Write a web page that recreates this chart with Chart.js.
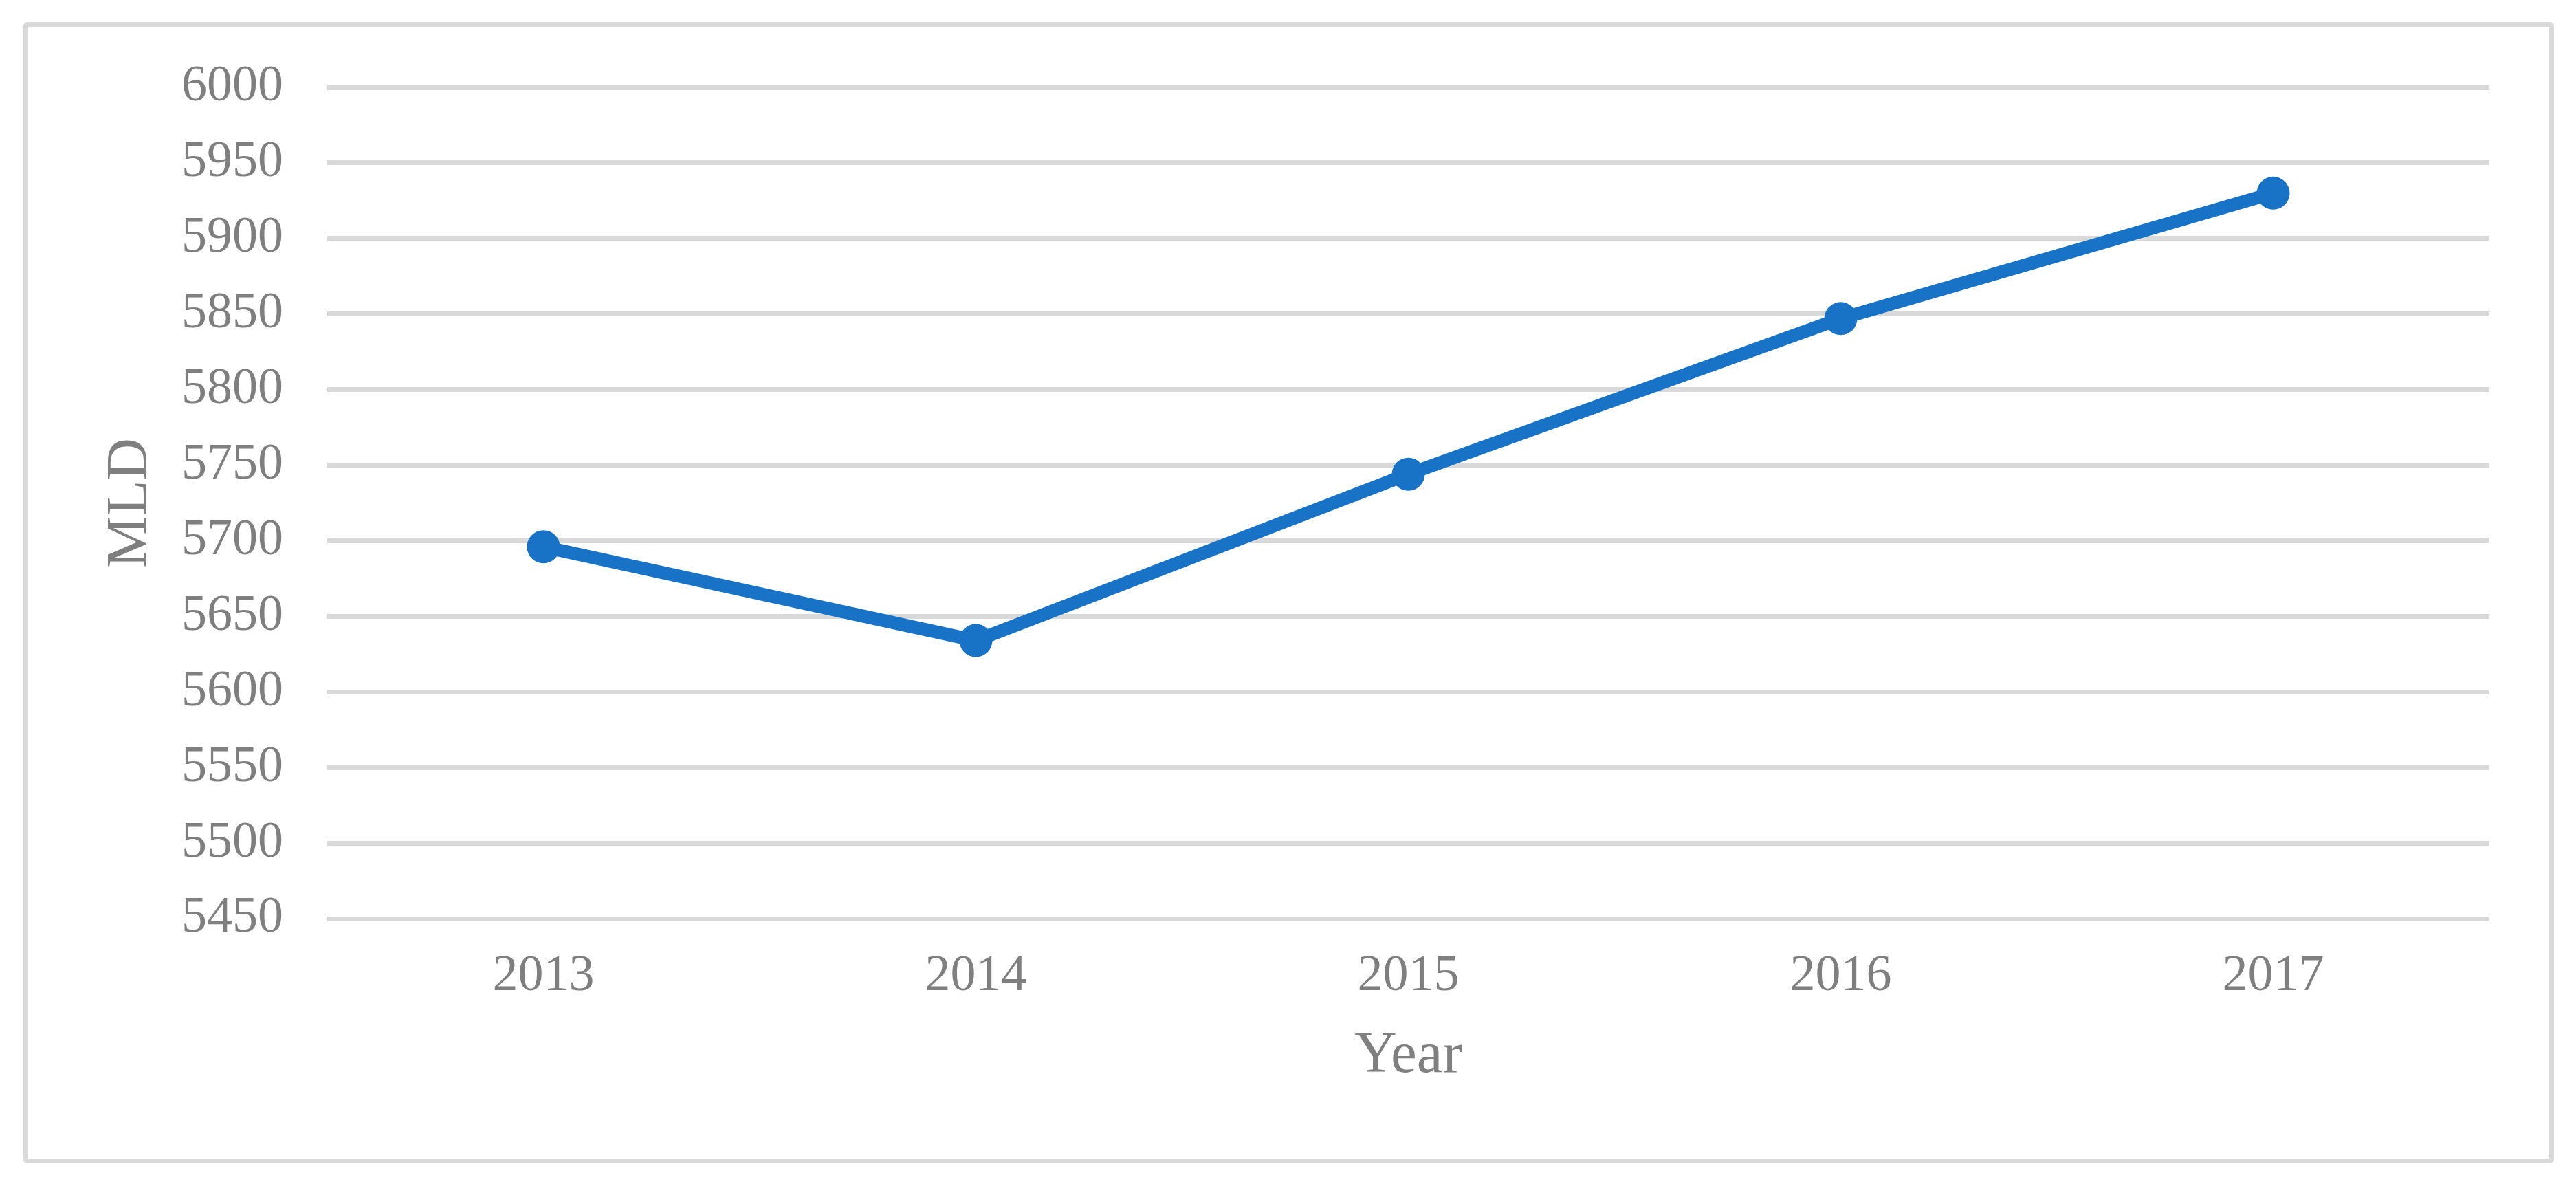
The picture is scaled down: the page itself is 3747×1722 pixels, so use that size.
<!DOCTYPE html>
<html>
<head>
<meta charset="utf-8">
<script src="https://cdn.jsdelivr.net/npm/chart.js"></script>
<style>
    html, body { margin: 0; padding: 0; background: #ffffff; }
    #wrap { position: relative; width: 3747px; height: 1722px; }
    #frame {
        position: absolute;
        left: 34px; top: 32px;
        width: 3667px; height: 1646px;
        border: 7px solid #d9d9d9;
        border-radius: 6px;
    }
    #mldChart { position: absolute; left: 0; top: 0; }
</style>
</head>
<body>
<div id="wrap">
    <div id="frame"></div>
    <canvas id="mldChart" width="3747" height="1722"></canvas>
</div>
<script>
// Data
const years = ['2013', '2014', '2015', '2016', '2017'];
const mld = [5696, 5634, 5744, 5847, 5930];
const yMin = 5450;
const yMax = 6000;
const yStep = 50;

const gray = '#7f7f7f';
const lineBlue = '#1873c7';
const fontFamily = '"Liberation Serif", "Times New Roman", serif';

const chart = new Chart(document.getElementById('mldChart'), {
    type: 'line',
    data: {
        labels: years,
        datasets: [{
            label: 'MLD',
            data: mld,
            borderColor: lineBlue,
            backgroundColor: lineBlue,
            borderWidth: 19,
            pointRadius: 24,
            pointHoverRadius: 24,
            pointBorderWidth: 0,
            pointBackgroundColor: lineBlue,
            tension: 0,
            fill: false
        }]
    },
    options: {
        responsive: false,
        animation: false,
        layout: {
            padding: { left: 140, right: 126, top: 127, bottom: 134 }
        },
        plugins: {
            legend: { display: false },
            title: { display: false },
            tooltip: { enabled: false }
        },
        scales: {
            x: {
                offset: true,
                grid: { display: false, drawTicks: false },
                border: { display: false },
                ticks: {
                    color: gray,
                    padding: 40,
                    maxRotation: 0,
                    font: { family: fontFamily, size: 74 }
                },
                title: {
                    display: true,
                    text: 'Year',
                    color: gray,
                    padding: 0,
                    font: { family: fontFamily, size: 85 }
                },
                afterFit: function(scale) { scale.height = 252; }
            },
            y: {
                min: yMin,
                max: yMax,
                grid: {
                    color: '#d9d9d9',
                    lineWidth: 7,
                    drawTicks: false
                },
                border: { display: false },
                ticks: {
                    stepSize: yStep,
                    color: gray,
                    padding: 64,
                    font: { family: fontFamily, size: 74 },
                    // plain numbers, no thousands separator
                    callback: function(value) { return String(value); }
                },
                title: {
                    display: true,
                    text: 'MLD',
                    color: gray,
                    padding: 0,
                    font: { family: fontFamily, size: 85 }
                },
                afterFit: function(scale) { scale.width = 336; }
            }
        }
    }
});
</script>
</body>
</html>
